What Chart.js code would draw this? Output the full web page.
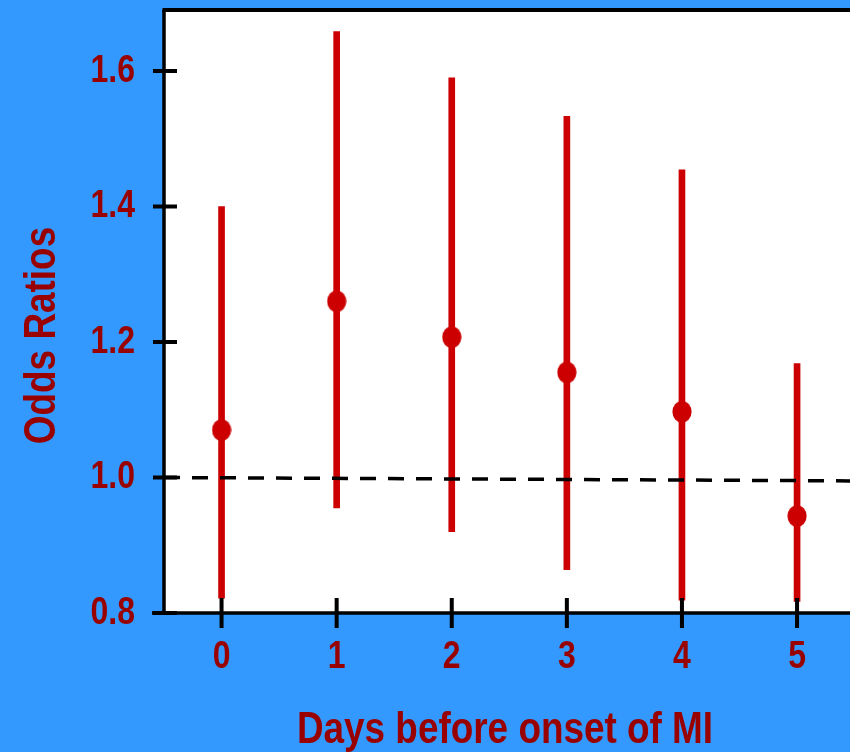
<!DOCTYPE html>
<html>
<head>
<meta charset="utf-8">
<script src="https://cdn.jsdelivr.net/npm/chart.js@4.4.1/dist/chart.umd.min.js"></script>
<style>
    html, body { margin: 0; padding: 0; background: #3399ff; }
</style>
</head>
<body>
<canvas id="orChart" width="850" height="752"></canvas>
<script>
// data
const days = [0, 1, 2, 3, 4, 5];
const oddsRatios = [1.07, 1.26, 1.207, 1.155, 1.097, 0.943];
const ciLower = [0.822, 0.955, 0.92, 0.864, 0.819, 0.817];
const ciUpper = [1.40, 1.658, 1.59, 1.533, 1.454, 1.168];
const xTicks = [0, 1, 2, 3, 4, 5];
const yTicks = [0.8, 1.0, 1.2, 1.4, 1.6];
const refX = [-0.5, 5.46];
const refY = [1.0, 0.995];

const FONT = "'Liberation Sans', Arial, sans-serif";
const SQUEEZE = 0.82; // no narrow face installed, so condense by hand
const LABEL_RED = '#990000';
const MARK_RED = '#cc0000';

// elliptic marker used for the point estimates
const dot = document.createElement('canvas');
dot.width = 20;
dot.height = 22;
const dctx = dot.getContext('2d');
dctx.fillStyle = MARK_RED;
dctx.beginPath();
dctx.ellipse(10, 11, 9.6, 10.8, 0, 0, Math.PI * 2);
dctx.fill();

function narrowText(ctx, text, x, y, align, angle) {
    ctx.save();
    ctx.translate(x, y);
    if (angle) ctx.rotate(angle);
    ctx.scale(SQUEEZE, 1);
    ctx.textAlign = align;
    ctx.textBaseline = 'alphabetic';
    ctx.fillText(text, 0, 0);
    ctx.restore();
}

// background, axes, tick marks, tick labels and axis titles
const framePlugin = {
    id: 'frame',
    beforeDraw(chart) {
        const { ctx, chartArea: a } = chart;
        ctx.save();
        ctx.fillStyle = '#3399ff';
        ctx.fillRect(0, 0, chart.width, chart.height);
        ctx.fillStyle = '#ffffff';
        ctx.fillRect(a.left, a.top, a.right - a.left, a.bottom - a.top);
        ctx.restore();
    },
    afterDraw(chart) {
        const { ctx, chartArea: a, scales } = chart;
        ctx.save();
        ctx.strokeStyle = '#000';
        ctx.lineCap = 'butt';

        // top border
        ctx.lineWidth = 4;
        ctx.beginPath();
        ctx.moveTo(a.left - 1.5, a.top);
        ctx.lineTo(a.right, a.top);
        ctx.stroke();

        // left + bottom axis
        ctx.lineWidth = 3.5;
        ctx.beginPath();
        ctx.moveTo(a.left, a.top);
        ctx.lineTo(a.left, a.bottom);
        ctx.moveTo(a.left - 12, a.bottom);
        ctx.lineTo(a.right, a.bottom);
        ctx.stroke();

        // tick marks crossing the axes
        ctx.lineWidth = 4;
        ctx.beginPath();
        yTicks.forEach(v => {
            const y = scales.y.getPixelForValue(v);
            ctx.moveTo(a.left - 11, y);
            ctx.lineTo(a.left + 13, y);
        });
        xTicks.forEach(v => {
            const x = scales.x.getPixelForValue(v);
            ctx.moveTo(x, a.bottom - 15);
            ctx.lineTo(x, a.bottom + 15);
        });
        ctx.stroke();

        // tick labels
        ctx.fillStyle = LABEL_RED;
        ctx.font = "bold 39px " + FONT;
        yTicks.forEach(v => {
            narrowText(ctx, v.toFixed(1), a.left - 29, scales.y.getPixelForValue(v) + 11, 'right');
        });
        xTicks.forEach(v => {
            narrowText(ctx, String(v), scales.x.getPixelForValue(v), a.bottom + 55, 'center');
        });

        // axis titles
        ctx.font = "bold 45px " + FONT;
        narrowText(ctx, 'Days before onset of MI', (a.left + a.right) / 2 - 2, a.bottom + 130, 'center');
        narrowText(ctx, 'Odds Ratios', 55, (a.top + a.bottom) / 2 + 24, 'center', -Math.PI / 2);
        ctx.restore();
    }
};

const ctx = document.getElementById('orChart').getContext('2d');
new Chart(ctx, {
    type: 'bar',
    data: {
        datasets: [
            {
                type: 'scatter',
                label: 'Odds ratio',
                data: days.map((d, i) => ({ x: d, y: oddsRatios[i] })),
                pointStyle: dot,
                pointRadius: 10,
                showLine: false,
                order: 0
            },
            {
                type: 'line',
                label: 'OR = 1',
                data: refX.map((x, i) => ({ x: x, y: refY[i] })),
                borderColor: '#000',
                borderWidth: 3.5,
                borderDash: [16, 12],
                pointRadius: 0,
                fill: false,
                order: 1
            },
            {
                type: 'bar',
                label: '95% CI',
                data: days.map((d, i) => ({ x: d, y: [ciLower[i], ciUpper[i]] })),
                backgroundColor: MARK_RED,
                borderWidth: 0,
                borderSkipped: false,
                barThickness: 6,
                order: 2
            }
        ]
    },
    options: {
        responsive: false,
        animation: false,
        layout: { autoPadding: false, padding: { top: 10, left: 0, right: 0, bottom: 0 } },
        plugins: {
            legend: { display: false },
            tooltip: { enabled: false }
        },
        scales: {
            x: {
                type: 'linear',
                offset: false,
                min: -0.5,
                max: 5.46,
                grid: { display: false, drawTicks: false, tickLength: 0 },
                border: { display: false },
                ticks: { display: false },
                afterBuildTicks: s => { s.ticks = xTicks.map(v => ({ value: v })); },
                afterFit: s => { s.height = 139; s.paddingLeft = 0; s.paddingRight = 0; }
            },
            y: {
                min: 0.8,
                max: 1.69,
                grid: { display: false, drawTicks: false, tickLength: 0 },
                border: { display: false },
                ticks: { display: false },
                afterBuildTicks: s => { s.ticks = yTicks.map(v => ({ value: v })); },
                afterFit: s => { s.width = 164; s.paddingTop = 0; s.paddingBottom = 0; }
            }
        }
    },
    plugins: [framePlugin]
});
</script>
</body>
</html>
